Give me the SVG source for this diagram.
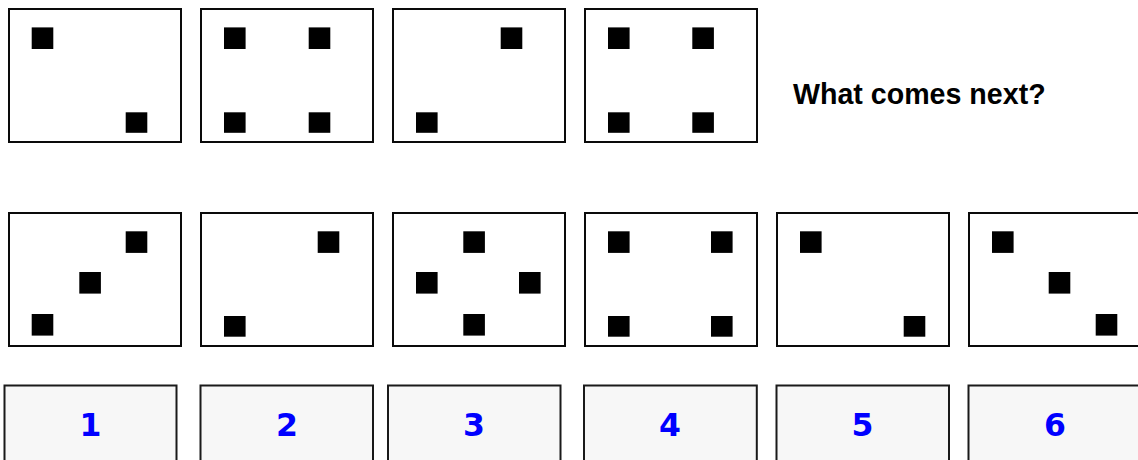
<svg xmlns="http://www.w3.org/2000/svg" width="1138" height="460" viewBox="0 0 1138 460">
<style>
.panel{fill:#ffffff;stroke:#0a0a0a;stroke-width:2}
.sq{fill:#000000}
.btn{fill:#f7f7f7;stroke:#1a1a1a;stroke-width:2}
.num{font-family:"DejaVu Sans",Verdana,sans-serif;font-weight:bold;font-size:31.5px;fill:#0000ff;text-anchor:middle}
.q{font-family:"Liberation Sans",Arial,sans-serif;font-weight:bold;font-size:28.6px;fill:#000000}
</style>
<rect width="1138" height="460" fill="#ffffff"/>
<g id="seq1"><rect class="panel" x="9" y="9" width="172" height="133"/>
<rect class="sq" x="31.7" y="27.4" width="21.6" height="21.6"/><rect class="sq" x="125.7" y="112.3" width="21.6" height="20.5"/></g>
<g id="seq2"><rect class="panel" x="201" y="9" width="172" height="133"/>
<rect class="sq" x="224" y="27.4" width="21.6" height="21.6"/><rect class="sq" x="308.7" y="27.4" width="21.6" height="21.6"/>
<rect class="sq" x="224" y="112.3" width="21.6" height="20.5"/><rect class="sq" x="308.7" y="112.3" width="21.6" height="20.5"/></g>
<g id="seq3"><rect class="panel" x="393" y="9" width="172" height="133"/>
<rect class="sq" x="500.7" y="27.4" width="21.6" height="21.6"/><rect class="sq" x="416" y="112.3" width="21.6" height="20.5"/></g>
<g id="seq4"><rect class="panel" x="585" y="9" width="172" height="133"/>
<rect class="sq" x="608" y="27.4" width="21.6" height="21.6"/><rect class="sq" x="692.3" y="27.4" width="21.6" height="21.6"/>
<rect class="sq" x="608" y="112.3" width="21.6" height="20.5"/><rect class="sq" x="692.3" y="112.3" width="21.6" height="20.5"/></g>
<g id="question"><text class="q" x="793" y="104">What comes next?</text></g>
<g id="optA"><rect class="panel" x="9" y="213" width="172" height="133"/>
<rect class="sq" x="31.7" y="314" width="21.6" height="21.6"/><rect class="sq" x="79.3" y="272" width="21.6" height="21.6"/><rect class="sq" x="125.7" y="231.3" width="21.6" height="21.6"/></g>
<g id="optB"><rect class="panel" x="201" y="213" width="172" height="133"/>
<rect class="sq" x="317.7" y="231.3" width="21.6" height="21.6"/><rect class="sq" x="224" y="316" width="21.6" height="20.7"/></g>
<g id="optC"><rect class="panel" x="393" y="213" width="172" height="133"/>
<rect class="sq" x="463.3" y="231.3" width="21.6" height="21.6"/><rect class="sq" x="416" y="272" width="21.6" height="21.6"/>
<rect class="sq" x="519" y="272" width="21.6" height="21.6"/><rect class="sq" x="463.3" y="314" width="21.6" height="21.6"/></g>
<g id="optD"><rect class="panel" x="585" y="213" width="172" height="133"/>
<rect class="sq" x="608" y="231.3" width="21.6" height="21.6"/><rect class="sq" x="711" y="231.3" width="21.6" height="21.6"/>
<rect class="sq" x="608" y="316" width="21.6" height="20.7"/><rect class="sq" x="711" y="316" width="21.6" height="20.7"/></g>
<g id="optE"><rect class="panel" x="777" y="213" width="172" height="133"/>
<rect class="sq" x="800" y="231.3" width="21.6" height="21.6"/><rect class="sq" x="903.7" y="316" width="21.6" height="20.7"/></g>
<g id="optF"><rect class="panel" x="969" y="213" width="172" height="133"/>
<rect class="sq" x="992" y="231.3" width="21.6" height="21.6"/><rect class="sq" x="1048.7" y="272" width="21.6" height="21.6"/><rect class="sq" x="1095.7" y="314" width="21.6" height="21.6"/></g>
<g id="btn1"><rect class="btn" x="4.5" y="385.5" width="172" height="90"/><text class="num" x="90.5" y="436">1</text></g>
<g id="btn2"><rect class="btn" x="200.5" y="385.5" width="172.5" height="90"/><text class="num" x="287" y="436">2</text></g>
<g id="btn3"><rect class="btn" x="388" y="385.5" width="172.5" height="90"/><text class="num" x="474" y="436">3</text></g>
<g id="btn4"><rect class="btn" x="584" y="385.5" width="172.8" height="90"/><text class="num" x="670" y="436">4</text></g>
<g id="btn5"><rect class="btn" x="776.5" y="385.5" width="172.5" height="90"/><text class="num" x="862.5" y="436">5</text></g>
<g id="btn6"><rect class="btn" x="968.5" y="385.5" width="172.5" height="90"/><text class="num" x="1055" y="436">6</text></g>
<g id="connectors"/>
</svg>
